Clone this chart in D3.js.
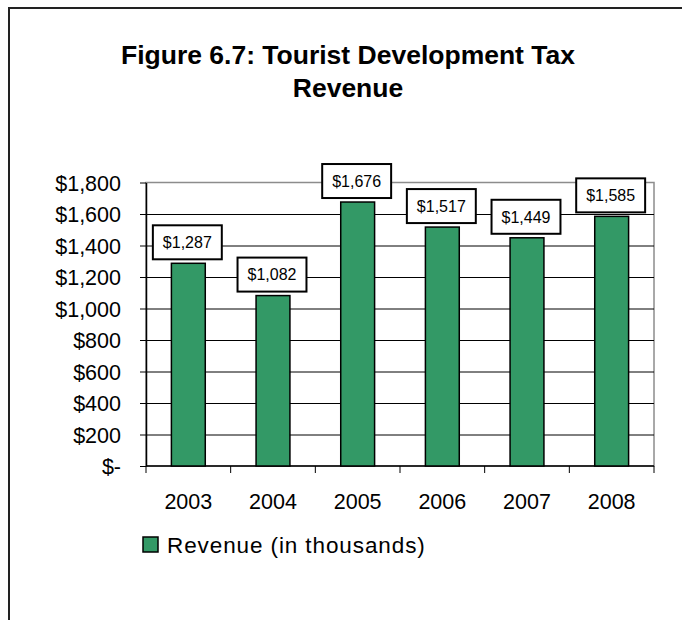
<!DOCTYPE html>
<html>
<head>
<meta charset="utf-8">
<script src="https://cdn.jsdelivr.net/npm/d3@7"></script>
<style>
    body { margin: 0; background: #fff; }
    svg text { font-family: "Liberation Sans", Arial, sans-serif; fill: #000; }
    .title { font-weight: bold; font-size: 26.5px; }
    .axis-label { font-size: 21.5px; }
    .value-label { font-size: 16px; }
    .legend-label { font-size: 22.5px; letter-spacing: 0.9px; }
</style>
</head>
<body>
<div id="chart"></div>
<script>
// --------- DATA ---------
const titleLines = ["Figure 6.7: Tourist Development Tax", "Revenue"];
const years = ["2003", "2004", "2005", "2006", "2007", "2008"];
const revenue = [1287, 1082, 1676, 1517, 1449, 1585];
const yTicks = [0, 200, 400, 600, 800, 1000, 1200, 1400, 1600, 1800];
const seriesName = "Revenue (in thousands)";

const barColor = "#339966";

// dollar format, zero shown as "$-" like the spreadsheet does
function dollars(v) {
    if (v === 0) return "$-";
    return "$" + d3.format(",")(v);
}

// --------- CHART ---------
let fullW = 682, fullH = 620;
let margin = {top: 182.5, right: 28, bottom: 154, left: 146},
    width = fullW - margin.left - margin.right,
    height = fullH - margin.top - margin.bottom;

let svg = d3.select("#chart")
    .append("svg")
    .attr("width", fullW)
    .attr("height", fullH);

// outer frame (only top and left edges are visible in the crop)
svg.append("path")
    .attr("d", "M9," + fullH + " V8 H" + fullW)
    .attr("fill", "none")
    .attr("stroke", "#222")
    .attr("stroke-width", 2);

// Title
svg.selectAll(".title")
    .data(titleLines)
    .enter().append("text")
    .attr("class", "title")
    .attr("x", 348)
    .attr("y", (d, i) => 64 + i * 33)
    .attr("text-anchor", "middle")
    .text(d => d);

let graph = svg.append("g")
    .attr("transform", "translate(" + margin.left + "," + margin.top + ")");

// Scales
let xScale = d3.scaleBand()
    .domain(years)
    .range([0, width])
    .paddingInner(0.6)
    .paddingOuter(0.3);

let yScale = d3.scaleLinear()
    .domain([0, 1800])
    .range([height, 0]);

// plot area border (grey)
graph.append("rect")
    .attr("x", 0).attr("y", 0)
    .attr("width", width).attr("height", height)
    .attr("fill", "none")
    .attr("stroke", "#8c8c8c")
    .attr("stroke-width", 1.5);

// Gridlines
let yGrid = d3.axisLeft(yScale)
    .tickValues(yTicks.filter(t => t > 0 && t < 1800))
    .tickFormat("")
    .tickSizeInner(-width)
    .tickSizeOuter(0);

graph.append("g")
    .attr("class", "gridlines")
    .call(yGrid)
    .call(g => g.select(".domain").remove())
    .call(g => g.selectAll("line").attr("stroke", "#000").attr("stroke-width", 1));

// Y axis
let yAxis = graph.append("g")
    .call(d3.axisLeft(yScale).tickValues(yTicks).tickFormat(dollars).tickSize(6).tickSizeOuter(0).tickPadding(19));
yAxis.select(".domain").attr("stroke", "#000").attr("stroke-width", 1.5);
yAxis.selectAll("line").attr("stroke", "#000");
yAxis.selectAll("text")
    .attr("class", "axis-label")
    .attr("dy", "0.36em");
yAxis.attr("font-size", null).attr("font-family", null);

// X axis: ticks sit between categories, like the spreadsheet
let xAxis = graph.append("g")
    .attr("transform", "translate(0," + height + ")");
xAxis.append("line")
    .attr("x1", 0).attr("x2", width)
    .attr("stroke", "#000").attr("stroke-width", 1.5);
let step = xScale.step();
xAxis.selectAll(".xtick")
    .data(d3.range(years.length + 1))
    .enter().append("line")
    .attr("class", "xtick")
    .attr("x1", i => i === years.length ? width : xScale(years[0]) - step * 0.3 + i * step)
    .attr("x2", i => i === years.length ? width : xScale(years[0]) - step * 0.3 + i * step)
    .attr("y1", 0).attr("y2", 7)
    .attr("stroke", "#000");
xAxis.selectAll(".xlabel")
    .data(years)
    .enter().append("text")
    .attr("class", "axis-label")
    .attr("x", d => xScale(d) + xScale.bandwidth() / 2)
    .attr("y", 43)
    .attr("text-anchor", "middle")
    .text(d => d);

// Bars
let data = years.map((y, i) => ({year: y, value: revenue[i]}));

graph.selectAll(".bar")
    .data(data)
    .enter().append("rect")
    .attr("class", "bar")
    .attr("x", d => xScale(d.year))
    .attr("y", d => yScale(d.value))
    .attr("width", xScale.bandwidth())
    .attr("height", d => height - yScale(d.value))
    .attr("fill", barColor)
    .attr("stroke", "#000")
    .attr("stroke-width", 1.5);

// Value labels in boxes
let labels = graph.selectAll(".vlabel")
    .data(data)
    .enter().append("g")
    .attr("class", "vlabel")
    .attr("transform", d => "translate(" + (xScale(d.year) + xScale.bandwidth() / 2 - 1) + "," + (yScale(d.value) - 21) + ")");

labels.append("rect").attr("class", "box");
labels.append("text")
    .attr("class", "value-label")
    .attr("text-anchor", "middle")
    .attr("dy", "0.36em")
    .text(d => dollars(d.value));

labels.each(function() {
    let g = d3.select(this);
    let w = g.select("text").node().getComputedTextLength() + 20;
    g.select("rect")
        .attr("x", -w / 2).attr("y", -17)
        .attr("width", w).attr("height", 34)
        .attr("fill", "#fff")
        .attr("stroke", "#000")
        .attr("stroke-width", 2);
});

// Legend
let legend = svg.append("g")
    .attr("transform", "translate(143,537)");
legend.append("rect")
    .attr("width", 15).attr("height", 15)
    .attr("fill", barColor)
    .attr("stroke", "#000")
    .attr("stroke-width", 1.5);
legend.append("text")
    .attr("class", "legend-label")
    .attr("x", 24)
    .attr("y", 7.5)
    .attr("dy", "0.36em")
    .text(seriesName);
</script>
</body>
</html>
